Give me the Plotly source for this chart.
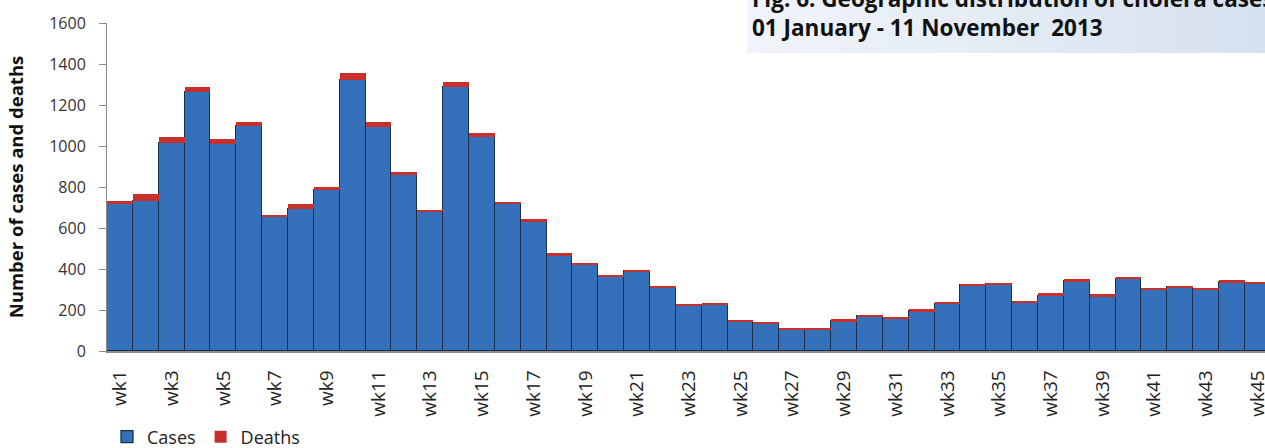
import plotly.graph_objects as go

weeks = [f"wk{i}" for i in range(1, 46)]
cases = [718, 734, 1015, 1263, 1008, 1099, 653, 694, 783, 1324, 1093, 857, 678, 1289, 1042,
         715, 634, 468, 420, 361, 388, 310, 220, 225, 143, 135, 105, 105, 146, 169,
         157, 195, 230, 320, 326, 237, 269, 340, 268, 352, 302, 310, 300, 336, 327]
deaths = [16, 33, 31, 26, 27, 16, 12, 22, 18, 32, 22, 17, 11, 21, 23,
          11, 9, 9, 8, 7, 7, 8, 9, 8, 6, 8, 8, 8, 9, 8,
          7, 8, 8, 7, 8, 8, 12, 9, 8, 6, 3, 8, 6, 8, 12]
tick_labels = weeks[::2]
y_ticks = [0, 200, 400, 600, 800, 1000, 1200, 1400, 1600]

FONT = "'Open Sans', sans-serif"

fig = go.Figure()
fig.add_trace(go.Bar(x=weeks, y=cases, name="Cases",
                     marker=dict(color="#3571bb", line=dict(color="#1b2f4f", width=1.3))))
fig.add_trace(go.Bar(x=weeks, y=deaths, name="Deaths",
                     marker=dict(color="#c8302c", line=dict(color="#c8302c", width=0))))

# Title box with gradient (built from strips)
shapes = []
n = 40
x0p, x1p = (747 - 107) / 1158, 1.0
c0 = (241, 245, 250)
c1 = (214, 225, 239)
for i in range(n):
    t = i / (n - 1)
    col = tuple(int(round(c0[k] + (c1[k] - c0[k]) * t)) for k in range(3))
    xa = x0p + (x1p - x0p) * i / n
    xb = x0p + (x1p - x0p) * (i + 1) / n + 0.001
    shapes.append(dict(type="rect", xref="paper", yref="paper", x0=xa, x1=min(xb, 1.0),
                       y0=(351 - 53) / 328, y1=1.08, fillcolor=f"rgb{col}", line=dict(width=0),
                       layer="above"))

fig.update_layout(
    width=1265, height=448,
    margin=dict(l=107, r=0, t=23, b=97, autoexpand=False),
    paper_bgcolor="white", plot_bgcolor="white",
    barmode="stack", bargap=0,
    font=dict(family=FONT, size=16, color="#222"),
    showlegend=True,
    legend=dict(orientation="h", x=0.0, y=-(437 - 351) / 328, xanchor="left", yanchor="middle",
                font=dict(family=FONT, size=18, color="#222"), itemwidth=30,
                traceorder="normal", bgcolor="rgba(0,0,0,0)"),
    shapes=shapes,
    annotations=[
        dict(text="<b>Fig. 6: Geographic distribution of cholera cases</b>", xref="paper", yref="paper",
             x=(750 - 107) / 1158, y=(351 + 1) / 328, xanchor="left", yanchor="middle",
             showarrow=False, font=dict(family=FONT, size=22.5, color="#111")),
        dict(text="<b>01 January - 11 November  2013</b>", xref="paper", yref="paper",
             x=(750 - 107) / 1158, y=(351 - 27) / 328, xanchor="left", yanchor="middle",
             showarrow=False, font=dict(family=FONT, size=22.5, color="#111")),
    ],
)
fig.update_xaxes(
    type="category", range=[-0.5, 44.28], automargin=False,
    tickmode="array", tickvals=tick_labels, ticktext=tick_labels,
    tickangle=-90, ticks="", showgrid=False, ticklabelstandoff=10,
    showline=True, linecolor="#8a8a8a", linewidth=1.5,
    tickfont=dict(family=FONT, size=19, color="#222"),
)
fig.update_yaxes(
    range=[0, 1600], tickvals=y_ticks, showgrid=False, automargin=False,
    showline=True, linecolor="#8a8a8a", linewidth=1,
    ticks="outside", ticklen=7, tickcolor="#8a8a8a", ticklabelstandoff=10,
    tickfont=dict(family=FONT, size=16, color="#333"),
    title=dict(text="<b>Number of cases and deaths</b>", standoff=20,
               font=dict(family=FONT, size=18.5, color="#111")),
)

fig.write_html(
    "out.html",
    config={"displayModeBar": False},
    post_script=(
        "document.body.style.margin='0';"
        "document.body.style.overflow='hidden';"
        "Plotly.relayout('{plot_id}', {width: 1265, height: 448});"
    ),
)
